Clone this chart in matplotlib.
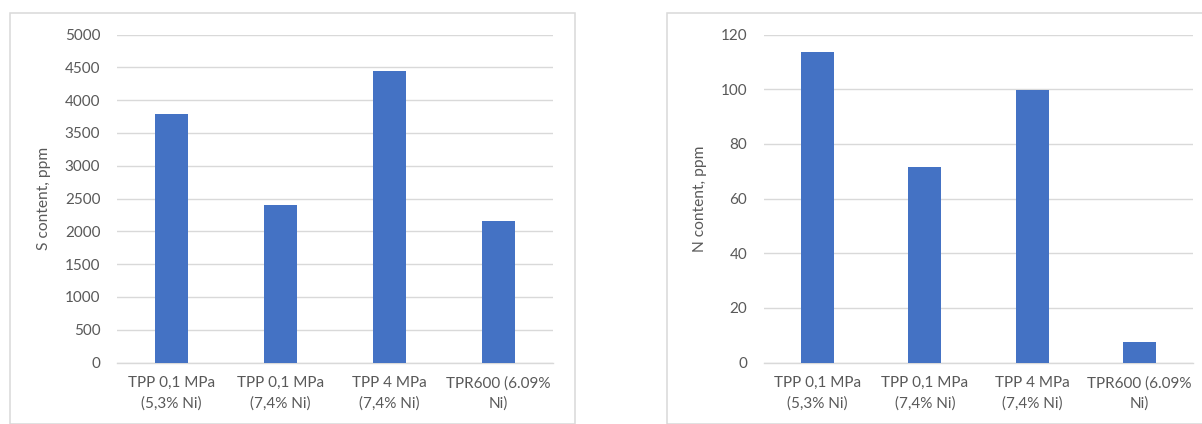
import matplotlib
matplotlib.use("Agg")
import matplotlib.pyplot as plt
from matplotlib.patches import Rectangle

categories = ["TPP 0,1 MPa\n(5,3% Ni)", "TPP 0,1 MPa\n(7,4% Ni)",
              "TPP 4 MPa\n(7,4% Ni)", "TPR600 (6.09%\nNi)"]
s_content = [3790, 2395, 4445, 2155]
n_content = [113.5, 71.7, 99.7, 7.5]

plt.rcParams['font.family'] = ['Lato', 'DejaVu Sans']
text_col = '#595959'
grid_col = '#d9d9d9'
bar_col = '#4472C4'

fig = plt.figure(figsize=(12.02, 4.24), dpi=100)

# chart frames (figure pixels)
W, H = 1202, 424
fig.patches.append(Rectangle((10 / W, 0), (575 - 10) / W, (H - 13) / H, transform=fig.transFigure,
                             fill=False, edgecolor=grid_col, linewidth=1.1))
fig.patches.append(Rectangle((667 / W, 0), 0.5, (H - 13) / H, transform=fig.transFigure,
                             fill=False, edgecolor=grid_col, linewidth=1.1))


def bar_panel(ax, values, ymax, step, ylabel):
    x = range(len(values))
    ax.bar(x, values, width=0.31, color=bar_col, zorder=3)
    ax.set_xlim(-0.5, len(values) - 0.5)
    ax.set_ylim(0, ymax)
    ax.set_yticks([i * step for i in range(int(ymax / step) + 1)])
    ax.set_xticks(list(x))
    ax.set_xticklabels(categories, linespacing=1.5)
    ax.grid(axis='y', color=grid_col, linewidth=1.0, zorder=0)
    for s in ['top', 'right', 'left']:
        ax.spines[s].set_visible(False)
    ax.spines['bottom'].set_color(grid_col)
    ax.spines['bottom'].set_linewidth(1.0)
    ax.tick_params(axis='both', length=0, colors=text_col, labelsize=11)
    ax.tick_params(axis='y', pad=12)
    ax.tick_params(axis='x', pad=10)
    ax.set_ylabel(ylabel, color=text_col, fontsize=11.2, labelpad=10)
    ax.patch.set_alpha(0)


ax1 = fig.add_axes([117 / W, 61.5 / H, 436 / W, 328 / H])
bar_panel(ax1, s_content, 5000, 500, "S content, ppm")

ax2 = fig.add_axes([764 / W, 61.5 / H, 429 / W, 328 / H])
bar_panel(ax2, n_content, 120, 20, "N content, ppm")

fig.savefig("out.png", dpi=100)
